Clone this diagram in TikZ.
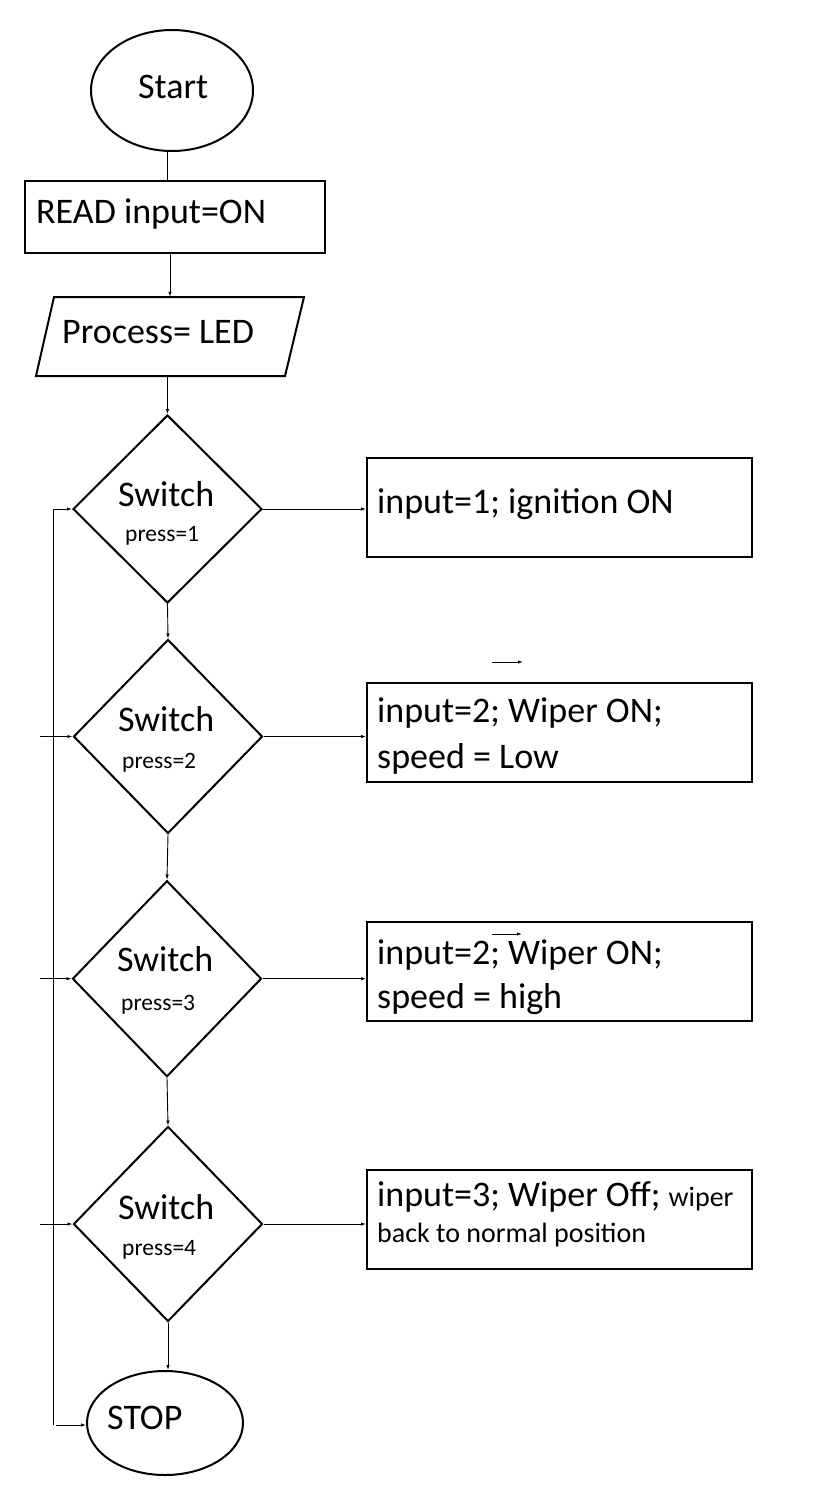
\documentclass[tikz,border=0pt]{standalone}
\usepackage{fontspec}
\setmainfont{Carlito}
\usetikzlibrary{shapes.geometric,arrows.meta}
\begin{document}
\begin{tikzpicture}[x=1pt,y=-1pt,
  shp/.style={draw,line width=2pt},
  conn/.style={line width=0.9pt,-{Latex[length=5pt,width=3.5pt]}},
  plainline/.style={line width=0.9pt},
  big/.style={font=\fontsize{36}{44}\selectfont,inner sep=0pt,anchor=base west},
  sml/.style={font=\fontsize{23.5}{28}\selectfont,inner sep=0pt,anchor=base west},
  mid/.style={font=\fontsize{28}{32}\selectfont,inner sep=0pt,anchor=base west},
  dec/.style={shp,diamond,minimum width=189pt,inner sep=0pt},
  outbox/.style={shp,rectangle,minimum width=385pt,minimum height=99pt,inner sep=0pt},
]
\useasboundingbox (0,0) rectangle (838,1486);

% terminals and process blocks
\node[shp,ellipse,minimum width=162pt,minimum height=121pt,inner sep=0pt] (start) at (172,90.5) {};
\node[big] (starttxt) at (138,98) {Start};

\node[shp,rectangle,minimum width=300pt,minimum height=72pt,inner sep=0pt] (read) at (175,217) {};
\node[big] (readtxt) at (36,223) {READ input=ON};

\node[minimum width=250pt,minimum height=79pt,inner sep=0pt] (proc) at (170,336.5) {};
\draw[shp] (36,376) -- (54,297) -- (304,297) -- (285,376) -- cycle;
\node[big] (proctxt) at (62,343) {Process= LED};

% decisions
\node[dec,minimum height=188pt] (d1) at (167.5,509) {};
\node[big] (d1a) at (118,506.5) {Switch};
\node[sml] (d1b) at (125,541.5) {press=1};

\node[dec,minimum height=194pt] (d2) at (168,736.5) {};
\node[big] (d2a) at (118,731) {Switch};
\node[sml] (d2b) at (122,768) {press=2};

\node[dec,minimum height=196pt] (d3) at (167,978.7) {};
\node[big] (d3a) at (117,971.7) {Switch};
\node[sml] (d3b) at (121,1010) {press=3};

\node[dec,minimum height=195pt] (d4) at (168,1224) {};
\node[big] (d4a) at (118,1219.3) {Switch};
\node[sml] (d4b) at (122,1255) {press=4};

\node[shp,ellipse,minimum width=156pt,minimum height=104pt,inner sep=0pt] (stop) at (165,1423) {};
\node[big] (stoptxt) at (107,1429) {STOP};

% output boxes
\node[outbox] (b1) at (559.5,507.5) {};
\node[big] (b1t) at (377,513) {input=1; ignition ON};

\node[outbox] (b2) at (559.5,732.5) {};
\node[big] (b2t) at (377,722) {input=2; Wiper ON;};
\node[big] (b2u) at (377,768) {speed = Low};

\node[outbox] (b3) at (559.5,971.5) {};
\node[big] (b3t) at (377,964) {input=2; Wiper ON;};
\node[big] (b3u) at (377,1008) {speed = high};

\node[outbox] (b4) at (559.5,1219.5) {};
\node[big] (b4t) at (377,1206.5) {input=3; Wiper Off; {\fontsize{28}{32}\selectfont wiper}};
\node[mid] (b4u) at (377,1242) {back to normal position};

% main flow
\draw[plainline] (start.south -| d1.north) -- (read.north -| d1.north);
\draw[conn] (read.south -| proc.north) -- (proc.north);
\draw[conn] (proc.south -| d1.north) -- (d1.north);
\draw[conn] (d1.south) -- (d2.north);
\draw[conn] (d2.south) -- (d3.north);
\draw[conn] (d3.south) -- (d4.north);
\draw[conn] (d4.south) -- (stop.north -| d4.south);

\draw[conn] (d1.east) -- (b1.west |- d1.east);
\draw[conn] (d2.east) -- (b2.west |- d2.east);
\draw[conn] (d3.east) -- (b3.west |- d3.east);
\draw[conn] (d4.east) -- (b4.west |- d4.east);

% left loop line
\coordinate (ltop) at (53,509);
\coordinate (lbot) at (53,1425);
\coordinate (s2) at (40,736.5);
\coordinate (s3) at (40,978.7);
\coordinate (s4) at (40,1224);
\coordinate (sb) at (56,1425);
\draw[plainline] (lbot) -- (ltop);
\draw[conn] (ltop) -- (d1.west);
\draw[conn] (s2) -- (d2.west);
\draw[conn] (s3) -- (d3.west);
\draw[conn] (s4) -- (d4.west);
\draw[conn] (sb) -- (stop.west |- sb);

% stray arrows
\coordinate (x1) at (492,662);
\coordinate (x2) at (523,662);
\coordinate (y1) at (492,934);
\coordinate (y2) at (522,934);
\draw[conn] (x1) -- (x2);
\draw[conn] (y1) -- (y2);
\end{tikzpicture}
\end{document}
